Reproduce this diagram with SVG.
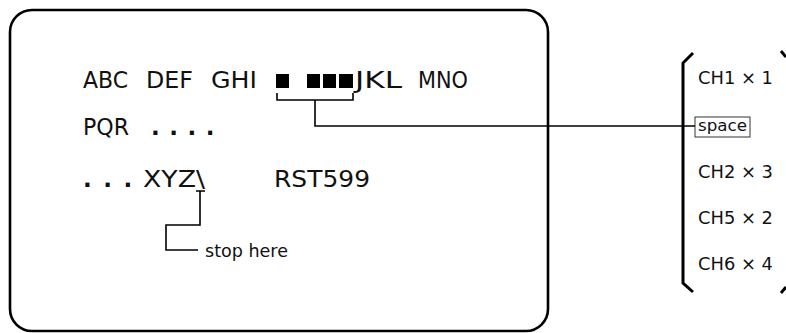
<svg xmlns="http://www.w3.org/2000/svg" width="786" height="333" viewBox="0 0 786 333">
<style>
.main{font-family:"DejaVu Sans",Verdana,sans-serif;font-size:23px;fill:#111}
.dots{font-family:"DejaVu Sans",Verdana,sans-serif;font-size:23px;font-weight:bold;fill:#111}
.lbl{font-family:"DejaVu Sans",Verdana,sans-serif;font-size:17px;fill:#111}
.small{font-family:"DejaVu Sans",Verdana,sans-serif;font-size:16px;fill:#111}
.conn{fill:none;stroke:#000;stroke-width:1.6}
.heavy{fill:none;stroke:#000;stroke-width:3}
</style>
<rect width="786" height="333" fill="#fff"/>
<g id="screen">
<rect x="10" y="10" width="538" height="321" rx="22" ry="22" fill="none" stroke="#000" stroke-width="2.6"/>
<text class="main" x="83" y="88" textLength="45" lengthAdjust="spacingAndGlyphs">ABC</text>
<text class="main" x="146" y="88" textLength="47" lengthAdjust="spacingAndGlyphs">DEF</text>
<text class="main" x="211" y="88" textLength="46" lengthAdjust="spacingAndGlyphs">GHI</text>
<g id="blocks" fill="#000">
<rect x="276" y="74" width="13" height="14"/>
<rect x="307" y="74" width="13" height="14"/>
<rect x="323" y="74" width="13" height="14"/>
<rect x="339" y="74" width="14" height="14"/>
</g>
<text class="main" x="355" y="88" textLength="47" lengthAdjust="spacingAndGlyphs">JKL</text>
<text class="main" x="418" y="88" textLength="50" lengthAdjust="spacingAndGlyphs">MNO</text>
<text class="main" x="83" y="135" textLength="46" lengthAdjust="spacingAndGlyphs">PQR</text>
<text class="dots" x="151" y="135" letter-spacing="9.5">....</text>
<text class="dots" x="83" y="187" letter-spacing="11.5">...</text>
<text class="main" x="143" y="187" textLength="62" lengthAdjust="spacingAndGlyphs">XYZ\</text>
<text class="main" x="274" y="187" textLength="96" lengthAdjust="spacingAndGlyphs">RST599</text>
</g>
<g id="stop-label">
<text class="lbl" x="205" y="257" textLength="83" lengthAdjust="spacingAndGlyphs">stop here</text>
</g>
<g id="list">
<path class="heavy" d="M693,53 L683,63 L683,283 L693,292"/>
<path class="heavy" d="M781,51 L786,57"/>
<path class="heavy" d="M781,293 L786,287"/>
<text class="lbl" x="698" y="84" textLength="75" lengthAdjust="spacingAndGlyphs">CH1 × 1</text>
<g id="space-box">
<rect x="695" y="117" width="55" height="20" fill="#fff" stroke="#333" stroke-width="1"/>
<text class="small" x="698" y="131" textLength="49" lengthAdjust="spacingAndGlyphs">space</text>
</g>
<text class="lbl" x="698" y="178" textLength="75" lengthAdjust="spacingAndGlyphs">CH2 × 3</text>
<text class="lbl" x="698" y="224" textLength="75" lengthAdjust="spacingAndGlyphs">CH5 × 2</text>
<text class="lbl" x="698" y="270" textLength="75" lengthAdjust="spacingAndGlyphs">CH6 × 4</text>
</g>
<g id="connectors">
<path class="conn" d="M277,93 L277,100 L353,100 L353,93 M315,100 L315,126 L695,126"/>
<path class="conn" d="M196,191 L205,191 M200,191 L200,225 L166,225 L166,250 L198,250"/>
</g>
</svg>
